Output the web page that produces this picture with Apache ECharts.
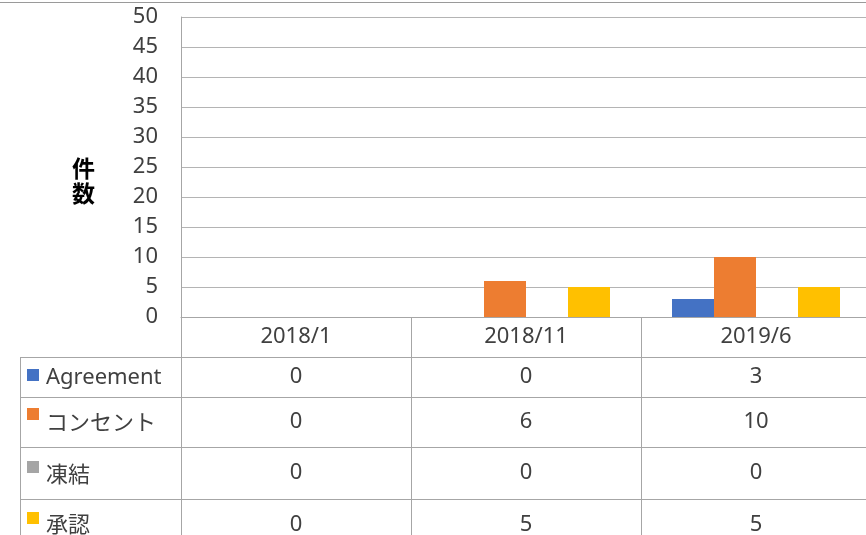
<!DOCTYPE html>
<html>
<head>
<meta charset="utf-8">
<script src="https://cdn.jsdelivr.net/npm/echarts@6/dist/echarts.min.js"></script>
<style>
  html, body { margin: 0; padding: 0; background: #fff; }
  #chart { width: 866px; height: 535px; }
</style>
</head>
<body>
<div id="chart"></div>
<script>
// data
var categories = ["2018/1", "2018/11", "2019/6"];
var seriesNames = ["Agreement", "コンセント", "凍結", "承認"];
var agreement = [0, 0, 3];
var consent = [0, 6, 10];
var frozen = [0, 0, 0];
var approval = [0, 5, 5];
var yMin = 0, yMax = 50, yStep = 5;
var axisName = "件\n数";

var colors = ["#4472C4", "#ED7D31", "#A5A5A5", "#FFC000"];
var values = [agreement, consent, frozen, approval];

var font = "'Noto Sans', 'Noto Sans CJK JP', sans-serif";
var textColor = "#404040";
var lineColor = "#A6A6A6";

// data table rows (top y, height) under the plot
var axisY = 317;
var rowTop = [357, 397, 447, 499];
var rowH = [40, 50, 52, 52];
var legendTop = [361, 393, 447, 499];
var legendShift = [3, 10, 9, 8];

var chart = echarts.init(document.getElementById("chart"));

var xAxes = [{
  type: "category",
  data: categories,
  position: "bottom",
  axisLine: { show: true, lineStyle: { color: lineColor, width: 1 } },
  axisTick: { show: true, interval: 0, length: 218, lineStyle: { color: lineColor } },
  axisLabel: { margin: 0, lineHeight: 40, fontSize: 22, color: textColor, fontFamily: font, interval: 0 }
}];
values.forEach(function (vals, i) {
  xAxes.push({
    type: "category",
    data: categories,
    position: "bottom",
    offset: rowTop[i] - axisY,
    axisLine: { show: false },
    axisTick: { show: false },
    axisLabel: {
      margin: 0, lineHeight: rowH[i], fontSize: 22, color: textColor, fontFamily: font, interval: 0,
      formatter: function (v, idx) { return String(vals[idx]); }
    }
  });
});

var legends = seriesNames.map(function (name, i) {
  return {
    data: [name],
    left: 27,
    top: legendTop[i],
    padding: 0,
    icon: "rect",
    itemWidth: 12,
    itemHeight: 12,
    selectedMode: false,
    formatter: "{t|{name}}",
    textStyle: {
      color: textColor,
      rich: {
        t: { fontSize: 22, lineHeight: 24, color: textColor, fontFamily: font, padding: [legendShift[i] * 2, 0, 0, 2] }
      }
    }
  };
});

var series = seriesNames.map(function (name, i) {
  return {
    name: name,
    type: "bar",
    xAxisIndex: 0,
    data: values[i],
    barWidth: 42,
    barGap: "0%",
    itemStyle: { color: colors[i] }
  };
});

var graphic = [
  { type: "line", shape: { x1: 0, y1: 2.5, x2: 866, y2: 2.5 }, style: { stroke: "#9A9A9A", lineWidth: 1 } },
  { type: "line", shape: { x1: 20.5, y1: 357, x2: 20.5, y2: 535 }, style: { stroke: lineColor, lineWidth: 1 } },
  { type: "text", left: 72, top: 158, style: { text: axisName, fontSize: 23, fontWeight: "bold", lineHeight: 25, fill: "#000", fontFamily: font } }
];
rowTop.forEach(function (y) {
  graphic.push({ type: "line", shape: { x1: 20, y1: y + 0.5, x2: 866, y2: y + 0.5 }, style: { stroke: lineColor, lineWidth: 1 } });
});

chart.setOption({
  animation: false,
  color: colors,
  grid: { left: 181, right: -5, top: 17, bottom: 535 - axisY, outerBoundsMode: "none", containLabel: false },
  legend: legends,
  xAxis: xAxes,
  yAxis: {
    type: "value",
    min: yMin,
    max: yMax,
    interval: yStep,
    axisLine: { show: true, lineStyle: { color: lineColor } },
    axisTick: { show: false },
    axisLabel: { fontSize: 22, color: textColor, fontFamily: font, margin: 23 },
    splitLine: { show: true, lineStyle: { color: "#B4B4B4", width: 1 } }
  },
  series: series,
  graphic: graphic
});
</script>
</body>
</html>
